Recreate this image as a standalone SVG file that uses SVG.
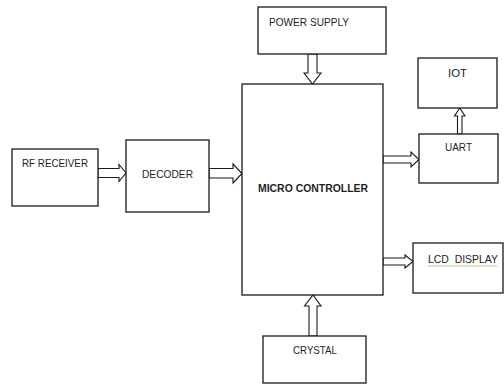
<svg xmlns="http://www.w3.org/2000/svg" width="504" height="385" viewBox="0 0 504 385">
<style>
.box{fill:#fff;stroke:#1a1a1a;stroke-width:1.3}
.arr{fill:#fff;stroke:#1a1a1a;stroke-width:1.1;stroke-linejoin:miter}
.t{font-family:"Liberation Sans",Arial,sans-serif;font-size:10.5px;fill:#1e1e28;text-anchor:middle}
.b{font-weight:bold}
</style>
<rect width="504" height="385" fill="#fff"/>
<g id="connectors">
<polygon class="arr" points="98,168.5 119,168.5 119,164.5 126,173 119,181.5 119,177.5 98,177.5"/>
<polygon class="arr" points="209,168.5 233,168.5 233,164 242,173.5 233,183 233,178 209,178"/>
<polygon class="arr" points="308,54 317,54 317,73 321,73 312.5,84 304,73 308,73"/>
<polygon class="arr" points="309,336 317,336 317,306 321,306 313,295 304.5,306 309,306"/>
<polygon class="arr" points="383,156 411,156 411,152 419,159.5 411,167 411,163 383,163"/>
<polygon class="arr" points="457.5,134 462,134 462,116 465,116 459.7,108 454.5,116 457.5,116"/>
<polygon class="arr" points="383,258 405,258 405,255 413,261.5 405,268 405,265 383,265"/>
</g>
<g id="rf-receiver">
<rect class="box" x="12" y="149" width="86" height="57"/>
<text class="t" x="55" y="167" textLength="66" lengthAdjust="spacingAndGlyphs">RF RECEIVER</text>
</g>
<g id="decoder">
<rect class="box" x="126" y="140" width="83" height="72"/>
<text class="t" x="167.5" y="178" textLength="51" lengthAdjust="spacingAndGlyphs">DECODER</text>
</g>
<g id="power-supply">
<rect class="box" x="258" y="7" width="128" height="47"/>
<text class="t" x="309" y="26" textLength="80" lengthAdjust="spacingAndGlyphs">POWER SUPPLY</text>
</g>
<g id="micro-controller">
<rect class="box" x="242" y="84" width="141" height="211"/>
<text class="t b" x="313" y="192" textLength="110" lengthAdjust="spacingAndGlyphs">MICRO CONTROLLER</text>
</g>
<g id="iot">
<rect class="box" x="418" y="58" width="79" height="50"/>
<text class="t" x="457.5" y="77" textLength="19" lengthAdjust="spacingAndGlyphs">IOT</text>
</g>
<g id="uart">
<rect class="box" x="419" y="134" width="79" height="49"/>
<text class="t" x="458.5" y="151" textLength="27" lengthAdjust="spacingAndGlyphs">UART</text>
</g>
<g id="lcd-display">
<rect class="box" x="413" y="243" width="90" height="50"/>
<text class="t" x="463" y="263" textLength="70" lengthAdjust="spacingAndGlyphs">LCD&#160; DISPLAY</text>
<path d="M428,266.5 l1.5,-1.2 l1.5,1.2 l1.5,-1.2 l1.5,1.2 l1.5,-1.2 l1.5,1.2 l1.5,-1.2 l1.5,1.2 l1.5,-1.2 l1.5,1.2 l1.5,-1.2 l1.5,1.2 l1.5,-1.2 l1.5,1.2 l1.5,-1.2 l1.5,1.2 l1.5,-1.2 l1.5,1.2 l1.5,-1.2 l1.5,1.2 l1.5,-1.2 l1.5,1.2 l1.5,-1.2 l1.5,1.2 l1.5,-1.2 l1.5,1.2 l1.5,-1.2 l1.5,1.2 l1.5,-1.2 l1.5,1.2 l1.5,-1.2 l1.5,1.2 l1.5,-1.2 l1.5,1.2 l1.5,-1.2 l1.5,1.2 l1.5,-1.2 l1.5,1.2 l1.5,-1.2 l1.5,1.2 l1.5,-1.2 l1.5,1.2 l1.5,-1.2 l1.5,1.2 l1.5,-1.2 l1.5,1.2" fill="none" stroke="#7cb342" stroke-width="0.7"/>
</g>
<g id="crystal">
<rect class="box" x="263" y="336" width="103" height="47"/>
<text class="t" x="315" y="354" textLength="44" lengthAdjust="spacingAndGlyphs">CRYSTAL</text>
</g>
</svg>
